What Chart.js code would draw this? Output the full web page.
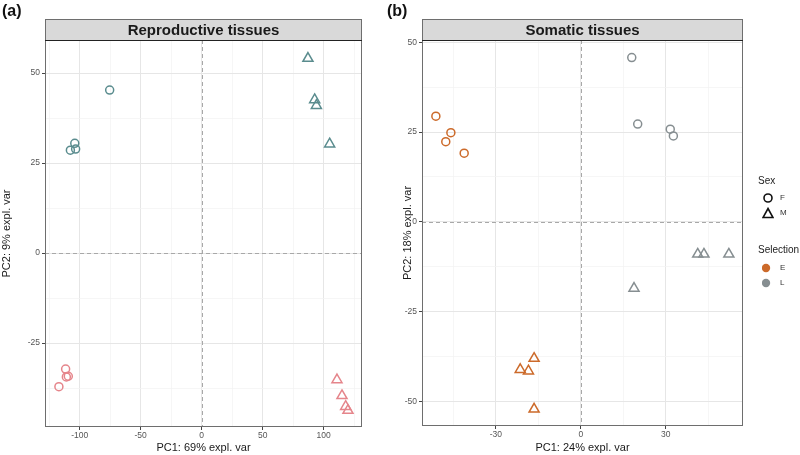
<!DOCTYPE html>
<html>
<head>
<meta charset="utf-8">
<script src="https://cdn.jsdelivr.net/npm/chart.js@4"></script>
<style>
  body { margin: 0; width: 800px; height: 455px; position: relative; background: #fff; overflow: hidden;
         font-family: "Liberation Sans", Arial, sans-serif; }
  canvas { position: absolute; top: 0; }
  #chartA { left: 0; }
  #chartB { left: 390px; }
  .tag { position: absolute; top: 3px; font-weight: bold; font-size: 16px; line-height: 16px; color: #111; }
  .legend { position: absolute; left: 758px; font-size: 10px; color: #222; }
  .key { position: absolute; left: 762px; width: 12px; height: 12px; }
  .klab { position: absolute; left: 780px; font-size: 8px; color: #333; line-height: 10px; }
</style>
</head>
<body>
<canvas id="chartA" width="390" height="455"></canvas>
<canvas id="chartB" width="370" height="455"></canvas>
<div class="tag" style="left:2px">(a)</div>
<div class="tag" style="left:387px">(b)</div>

<div class="legend" style="top:175px">Sex</div>
<svg class="key" style="top:192px" viewBox="0 0 12 12"><circle cx="6" cy="6" r="4" fill="none" stroke="#111" stroke-width="1.6"/></svg>
<div class="klab" style="top:193px">F</div>
<svg class="key" style="top:207px" viewBox="0 0 12 12"><polygon points="6,1.5 11,10.5 1,10.5" fill="none" stroke="#111" stroke-width="1.6"/></svg>
<div class="klab" style="top:208px">M</div>
<div class="legend" style="top:244px">Selection</div>
<svg class="key" style="top:262px" viewBox="0 0 12 12"><circle cx="4" cy="6" r="4.2" fill="#cc6a2a"/></svg>
<div class="klab" style="top:263px">E</div>
<svg class="key" style="top:277px" viewBox="0 0 12 12"><circle cx="4" cy="6" r="4.2" fill="#868e91"/></svg>
<div class="klab" style="top:278px">L</div>

<script>
// Reproductive tissues (PC1, PC2)
const repTealCircles = [[-75.4, 45.3], [-104, 30.5], [-107.6, 28.6], [-103.3, 28.9]];
const repTealTriangles = [[87.1, 54.1], [92.6, 42.6], [94, 41.0], [104.9, 30.3]];
const repPinkCircles = [[-111.5, -32.2], [-110.9, -34.4], [-109.3, -34.2], [-117, -37.1]];
const repPinkTriangles = [[110.9, -35.2], [115, -39.6], [118, -42.6], [119.9, -43.7]];

// Somatic tissues (PC1, PC2)
const somOrangeCircles = [[-51.2, 29.4], [-45.9, 24.8], [-47.7, 22.3], [-41.2, 19.1]];
const somGreyCircles = [[18, 45.7], [20.1, 27.2], [31.6, 25.8], [32.7, 23.9]];
const somGreyTriangles = [[41.3, -9.0], [43.5, -9.0], [52.3, -9.0], [18.8, -18.5]];
const somOrangeTriangles = [[-16.5, -38.0], [-21.4, -41.1], [-18.5, -41.5], [-16.5, -52.1]];

// tick labels
const repXTicks = [-100, -50, 0, 50, 100];
const repYTicks = [-25, 0, 25, 50];
const somXTicks = [-30, 0, 30];
const somYTicks = [-50, -25, 0, 25, 50];

const TEAL = "#5a8c8e", PINK = "#e5858b", ORANGE = "#cc6a2a", GREY = "#868e91";
const FONT = '"Liberation Sans", Arial, sans-serif';

function toPts(arr) {
  return arr.map(p => ({ x: p[0], y: p[1] }));
}

function ds(arr, color, style) {
  return {
    data: toPts(arr),
    pointStyle: style,
    pointRadius: style === "triangle" ? 5.8 : 4,
    borderColor: color,
    backgroundColor: "rgba(0,0,0,0)",
    pointBorderWidth: 1.5,
    showLine: false
  };
}

// major ticks plus the minor ones halfway between
function buildTicks(majors, min, max) {
  const step = (majors[1] - majors[0]) / 2;
  let v = majors[0];
  while (v - step >= min) v -= step;
  const out = [];
  for (; v <= max + 1e-9; v += step) out.push({ value: v });
  return out;
}

function axis(majors, min, max, title, size, titlePad) {
  const horiz = size.height !== undefined;
  return {
    type: "linear",
    position: horiz ? "bottom" : "left",
    min: min,
    max: max,
    afterBuildTicks: s => { s.ticks = buildTicks(majors, min, max); },
    afterFit: s => { if (horiz) s.height = size.height; else s.width = size.width; },
    border: { display: false },
    grid: {
      color: c => majors.includes(c.tick.value) ? "#e6e6e6" : "#f2f2f2",
      lineWidth: c => majors.includes(c.tick.value) ? 1 : 0.7,
      tickColor: c => majors.includes(c.tick.value) ? "#444" : "rgba(0,0,0,0)",
      tickLength: 3,
      tickWidth: 1
    },
    ticks: {
      autoSkip: false,
      maxRotation: 0,
      padding: horiz ? 1 : 2,
      color: "#555",
      font: { family: FONT, size: 8.5 },
      callback: v => majors.includes(v) ? String(v) : ""
    },
    title: {
      display: true,
      text: title,
      color: "#1a1a1a",
      font: { family: FONT, size: 11 },
      padding: titlePad
    }
  };
}

const panelDecor = {
  id: "panelDecor",
  beforeDatasetsDraw(chart) {
    const { ctx, chartArea: a, scales: { x, y } } = chart;
    const x0 = Math.round(x.getPixelForValue(0)) + 0.5;
    const y0 = Math.round(y.getPixelForValue(0)) + 0.5;
    ctx.save();
    ctx.strokeStyle = "#a8a8a8";
    ctx.lineWidth = 1;
    ctx.setLineDash([4, 3]);
    ctx.beginPath();
    ctx.moveTo(x0, a.top); ctx.lineTo(x0, a.bottom);
    ctx.moveTo(a.left, y0); ctx.lineTo(a.right, y0);
    ctx.stroke();
    ctx.restore();
  },
  afterDraw(chart, args, opts) {
    const { ctx, chartArea: a } = chart;
    ctx.save();
    ctx.strokeStyle = "#6e6e6e";
    ctx.lineWidth = 1;
    ctx.strokeRect(a.left + 0.5, a.top + 0.5, a.right - a.left - 1, a.bottom - a.top - 1);
    // strip
    ctx.fillStyle = "#d9d9d9";
    ctx.fillRect(a.left, 19, a.right - a.left, a.top - 19);
    ctx.strokeRect(a.left + 0.5, 19.5, a.right - a.left - 1, a.top - 19);
    ctx.strokeStyle = "#222";
    ctx.beginPath(); ctx.moveTo(a.left, a.top + 0.5); ctx.lineTo(a.right, a.top + 0.5); ctx.stroke();
    ctx.fillStyle = "#1a1a1a";
    ctx.font = "bold 15px " + FONT;
    ctx.textAlign = "center";
    ctx.textBaseline = "middle";
    ctx.fillText(opts.label, (a.left + a.right) / 2, (19 + a.top) / 2 + 1);
    ctx.restore();
  }
};

function makeChart(id, datasets, label, xs, ys, pad) {
  new Chart(document.getElementById(id), {
    type: "scatter",
    data: { datasets: datasets },
    options: {
      responsive: false,
      animation: false,
      layout: { padding: pad },
      plugins: {
        legend: { display: false },
        tooltip: { enabled: false },
        panelDecor: { label: label }
      },
      scales: { x: xs, y: ys }
    },
    plugins: [panelDecor]
  });
}

makeChart("chartA", [
    ds(repTealCircles, TEAL, "circle"),
    ds(repTealTriangles, TEAL, "triangle"),
    ds(repPinkCircles, PINK, "circle"),
    ds(repPinkTriangles, PINK, "triangle")
  ], "Reproductive tissues",
  axis(repXTicks, -128.4, 131.4, "PC1: 69% expl. var", { height: 28 }, { top: 0, bottom: 0 }),
  axis(repYTicks, -48.3, 59.2, "PC2: 9% expl. var", { width: 45 }, { top: 0, bottom: 0 }),
  { top: 40, right: 28, left: 0, bottom: 0 });

makeChart("chartB", [
    ds(somOrangeCircles, ORANGE, "circle"),
    ds(somGreyCircles, GREY, "circle"),
    ds(somGreyTriangles, GREY, "triangle"),
    ds(somOrangeTriangles, ORANGE, "triangle")
  ], "Somatic tissues",
  axis(somXTicks, -56.1, 57.3, "PC1: 24% expl. var", { height: 29 }, { top: 0, bottom: 0 }),
  axis(somYTicks, -56.8, 50.6, "PC2: 18% expl. var", { width: 32 }, { top: 11, bottom: 0 }),
  { top: 40, right: 17, left: 0, bottom: 0 });
</script>
</body>
</html>
